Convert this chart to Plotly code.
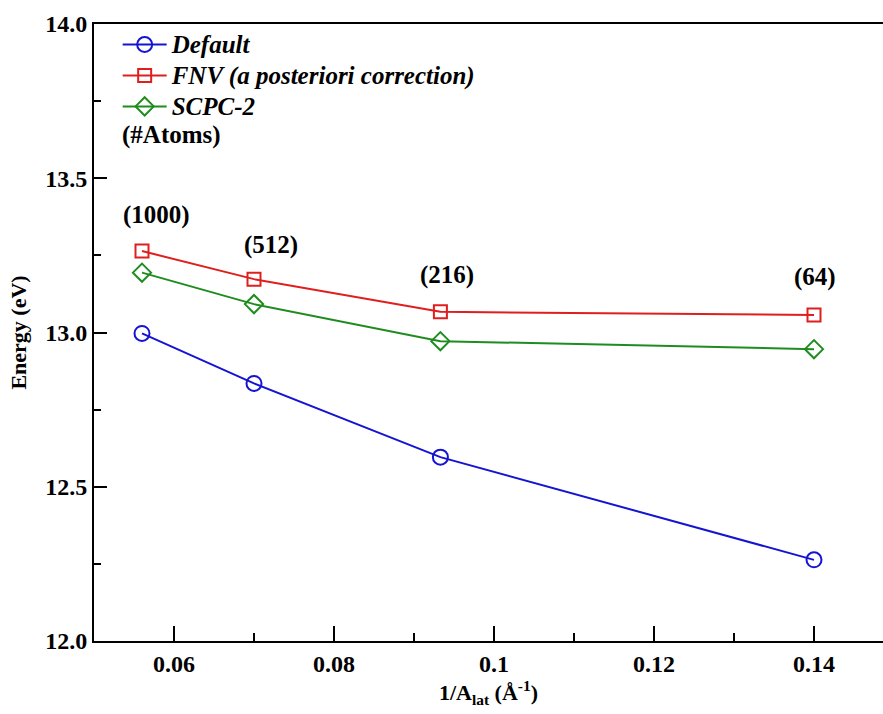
import plotly.graph_objects as go

# Inverse lattice size (1/A_lat, in 1/Angstrom) for the four supercells
inv_alat = [0.056, 0.070, 0.0933, 0.140]
n_atoms = ["(1000)", "(512)", "(216)", "(64)"]

# Energies (eV) for each correction scheme
e_default = [12.997, 12.835, 12.596, 12.263]
e_fnv = [13.264, 13.173, 13.067, 13.057]
e_scpc2 = [13.194, 13.092, 12.972, 12.946]

x_ticks = [0.06, 0.08, 0.10, 0.12, 0.14]
x_tick_text = ["0.06", "0.08", "0.1", "0.12", "0.14"]
y_ticks = [12.0, 12.5, 13.0, 13.5, 14.0]
y_tick_text = ["12.0", "12.5", "13.0", "13.5", "14.0"]

FONT = "Liberation Serif"
BLUE, RED, GREEN = "#1414d2", "#e01e1e", "#1e8c1e"

fig = go.Figure()

series = [
    ("Default", e_default, BLUE, "circle-open", 15),
    ("FNV (a posteriori correction)", e_fnv, RED, "square-open", 13),
    ("SCPC-2", e_scpc2, GREEN, "diamond-open", 14),
]
for name, ys, color, symbol, size in series:
    fig.add_trace(go.Scatter(
        x=inv_alat, y=ys, mode="lines+markers",
        # larger glyphs than the legend row pitch so rows stay compact
        name=f"<span style='font-size:25px'><b><i>{name}</i></b></span>",
        line=dict(color=color, width=2),
        marker=dict(symbol=symbol, size=size, color=color,
                    line=dict(color=color, width=2)),
    ))

# Supercell size labels above the FNV curve
label_shift = [(14, 36), (17, 34), (7, 37), (1, 38)]
for x, y, txt, (dx, dy) in zip(inv_alat, e_fnv, n_atoms, label_shift):
    fig.add_annotation(x=x, y=y, text=f"<b>{txt}</b>", showarrow=False,
                       xshift=dx, yshift=dy,
                       font=dict(family=FONT, size=25, color="black"))

fig.add_annotation(xref="paper", yref="paper", x=0.098, y=0.820,
                   text="<b>(#Atoms)</b>", showarrow=False,
                   xanchor="center", yanchor="middle",
                   font=dict(family=FONT, size=25, color="black"))

tick_font = dict(family=FONT, size=24, color="black", weight="bold")

fig.update_layout(
    width=883, height=714,
    margin=dict(l=94, r=0, t=24, b=73),
    paper_bgcolor="white", plot_bgcolor="white",
    font=dict(family=FONT),
    showlegend=True,
    legend=dict(x=0.03, y=1.0, xanchor="left", yanchor="top",
                bgcolor="rgba(0,0,0,0)", borderwidth=0,
                font=dict(family=FONT, size=21.5, color="black"),
                tracegroupgap=0, itemwidth=44),
    xaxis=dict(
        range=[0.05, 0.05 + 789 / 8000],
        tickvals=x_ticks, ticktext=x_tick_text,
        ticks="inside", ticklen=15, tickwidth=1.5, tickcolor="black",
        minor=dict(dtick=0.01, tick0=0.05, ticks="inside", ticklen=8,
                   tickwidth=1.5, tickcolor="black"),
        showline=True, linecolor="black", linewidth=2, mirror=True,
        showgrid=False, zeroline=False,
        tickfont=tick_font,
        title=dict(text="<b>1/A<sub>lat</sub> (Å<sup>-1</sup>)</b>",
                   font=dict(family=FONT, size=22, color="black"),
                   standoff=4),
        automargin=False,
    ),
    yaxis=dict(
        range=[12.0, 14.0],
        tickvals=y_ticks, ticktext=y_tick_text,
        ticks="inside", ticklen=13, tickwidth=1.5, tickcolor="black",
        minor=dict(dtick=0.25, tick0=12.0, ticks="inside", ticklen=7,
                   tickwidth=1.5, tickcolor="black"),
        showline=True, linecolor="black", linewidth=2, mirror=False,
        showgrid=False, zeroline=False,
        tickfont=tick_font,
        title=dict(text="<b>Energy (eV)</b>",
                   font=dict(family=FONT, size=22, color="black"),
                   standoff=13),
        automargin=False,
    ),
    yaxis2=dict(
        overlaying="y", side="right", matches="y", range=[12.0, 14.0],
        tickvals=y_ticks, showticklabels=False,
        ticks="inside", ticklen=3, tickwidth=1.5, tickcolor="black",
        showline=False, showgrid=False, zeroline=False,
    ),
)

fig.write_html("out.html")
